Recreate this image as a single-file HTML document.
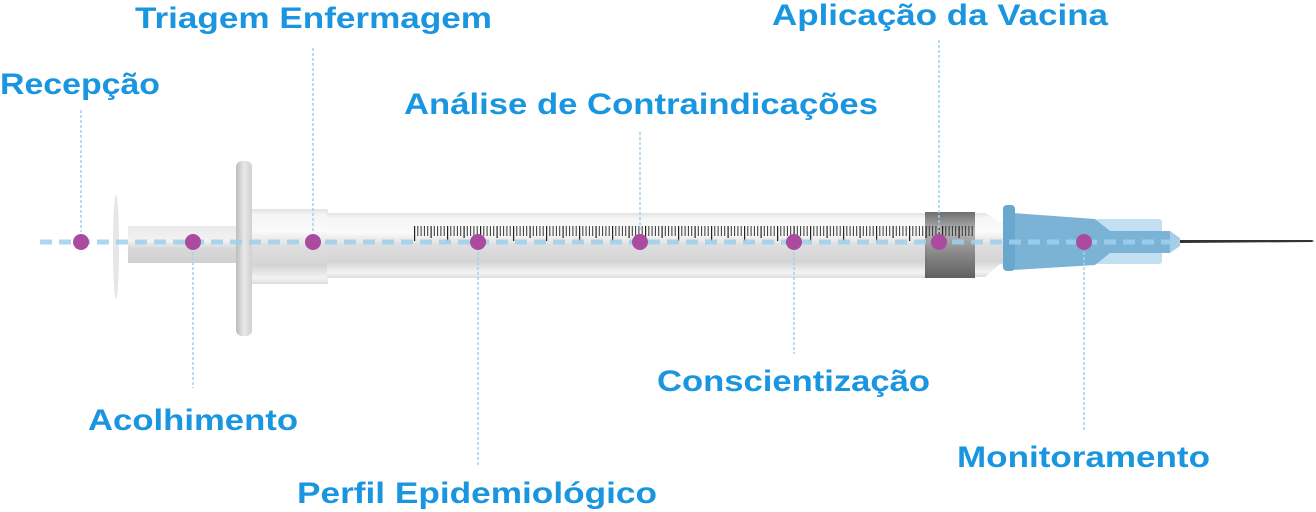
<!DOCTYPE html>
<html><head><meta charset="utf-8"><style>
html,body{margin:0;padding:0;background:#fff;width:1316px;height:512px;overflow:hidden}
svg{display:block}
text{font-family:"Liberation Sans",sans-serif;font-weight:bold;font-size:30px;fill:#1a96e0}
</style></head><body>
<svg width="1316" height="512" viewBox="0 0 1316 512" xmlns="http://www.w3.org/2000/svg">
<defs>
<linearGradient id="gb" x1="0" y1="0" x2="0" y2="1">
<stop offset="0" stop-color="#e2e2e2"/><stop offset="0.08" stop-color="#f6f6f6"/><stop offset="0.3" stop-color="#fafafa"/><stop offset="0.5" stop-color="#dedede"/><stop offset="0.75" stop-color="#d4d4d4"/><stop offset="0.92" stop-color="#f3f3f3"/><stop offset="1" stop-color="#dcdcdc"/>
</linearGradient>
<linearGradient id="gr" x1="0" y1="0" x2="0" y2="1">
<stop offset="0" stop-color="#eaeaea"/><stop offset="0.4" stop-color="#f2f2f2"/><stop offset="0.6" stop-color="#d8d8d8"/><stop offset="1" stop-color="#d0d0d0"/>
</linearGradient>
<linearGradient id="gs" x1="0" y1="0" x2="0" y2="1">
<stop offset="0" stop-color="#555"/><stop offset="0.3" stop-color="#aaa"/><stop offset="0.6" stop-color="#777"/><stop offset="1" stop-color="#444"/>
</linearGradient>
<linearGradient id="gf" x1="0" y1="0" x2="1" y2="0">
<stop offset="0" stop-color="#bbb"/><stop offset="0.5" stop-color="#e8e8e8"/><stop offset="1" stop-color="#d0d0d0"/>
</linearGradient>
<pattern id="tk" x="414" y="226" width="33" height="20" patternUnits="userSpaceOnUse">
<rect x="0" y="0" width="1.2" height="15" fill="#222"/>
<rect x="3.3" y="0" width="1" height="10" fill="#333"/>
<rect x="6.6" y="0" width="1" height="10" fill="#333"/>
<rect x="9.9" y="0" width="1" height="10" fill="#333"/>
<rect x="13.2" y="0" width="1" height="10" fill="#333"/>
<rect x="16.5" y="0" width="1.2" height="12" fill="#222"/>
<rect x="19.8" y="0" width="1" height="10" fill="#333"/>
<rect x="23.1" y="0" width="1" height="10" fill="#333"/>
<rect x="26.4" y="0" width="1" height="10" fill="#333"/>
<rect x="29.7" y="0" width="1" height="10" fill="#333"/>
</pattern>
</defs>
<ellipse cx="116" cy="247" rx="3" ry="52" fill="#e6e6e6"/>
<rect x="128" y="226" width="112" height="37" fill="url(#gr)"/>
<rect x="252" y="209" width="76" height="75" fill="url(#gb)"/>
<rect x="327" y="213" width="600" height="65" fill="url(#gb)"/>
<rect x="925" y="212" width="50" height="66" fill="url(#gs)" opacity="0.85"/>
<rect x="414" y="226" width="560" height="16" fill="url(#tk)"/>
<path d="M975 213 L985 213 L1000 222 L1005 222 L1005 264 L1000 264 L985 277 L975 277 Z" fill="url(#gb)"/>
<rect x="236" y="161" width="16" height="175" rx="6" fill="url(#gf)"/>
<rect x="1095" y="219" width="67" height="45" rx="3" fill="#c2e0f2"/>
<path d="M1013 213 L1095 219 L1110 231 L1170 231 L1170 253 L1110 253 L1095 265 L1013 270 Z" fill="#7ab3d6"/>
<path d="M1170 231 L1180 238 L1180 246 L1170 253 Z" fill="#a9cde6"/>
<rect x="1003" y="205" width="12" height="66" rx="4" fill="#6aa7cf"/>
<path d="M1180 240 L1312 240 L1314 241 L1312 242 L1180 243 Z" fill="#333"/>
<line x1="40" y1="242" x2="1180" y2="242" stroke="#9fd0ee" stroke-width="5" stroke-dasharray="12 7" opacity="0.85"/>
<g stroke="#9fd3f0" stroke-width="1.5" stroke-dasharray="3 2">
<line x1="81" y1="110" x2="81" y2="232"/>
<line x1="193" y1="252" x2="193" y2="388"/>
<line x1="313" y1="48" x2="313" y2="232"/>
<line x1="478" y1="252" x2="478" y2="466"/>
<line x1="640" y1="132" x2="640" y2="232"/>
<line x1="794" y1="252" x2="794" y2="354"/>
<line x1="939" y1="40" x2="939" y2="232"/>
<line x1="1084" y1="252" x2="1084" y2="432"/>
</g>
<g fill="#aa4b9f">
<circle cx="81" cy="242" r="8"/><circle cx="193" cy="242" r="8"/><circle cx="313" cy="242" r="8"/><circle cx="478" cy="242" r="8"/><circle cx="640" cy="242" r="8"/><circle cx="794" cy="242" r="8"/><circle cx="939" cy="242" r="8"/><circle cx="1084" cy="242" r="8"/>
</g>
<text x="0" y="94" textLength="160" lengthAdjust="spacingAndGlyphs">Recepção</text>
<text x="135" y="28" textLength="357" lengthAdjust="spacingAndGlyphs">Triagem Enfermagem</text>
<text x="404" y="114" textLength="474" lengthAdjust="spacingAndGlyphs">Análise de Contraindicações</text>
<text x="772" y="25" textLength="336" lengthAdjust="spacingAndGlyphs">Aplicação da Vacina</text>
<text x="88" y="430" textLength="210" lengthAdjust="spacingAndGlyphs">Acolhimento</text>
<text x="297" y="503" textLength="360" lengthAdjust="spacingAndGlyphs">Perfil Epidemiológico</text>
<text x="657" y="391" textLength="273" lengthAdjust="spacingAndGlyphs">Conscientização</text>
<text x="957" y="467" textLength="253" lengthAdjust="spacingAndGlyphs">Monitoramento</text>
</svg>
</body></html>
